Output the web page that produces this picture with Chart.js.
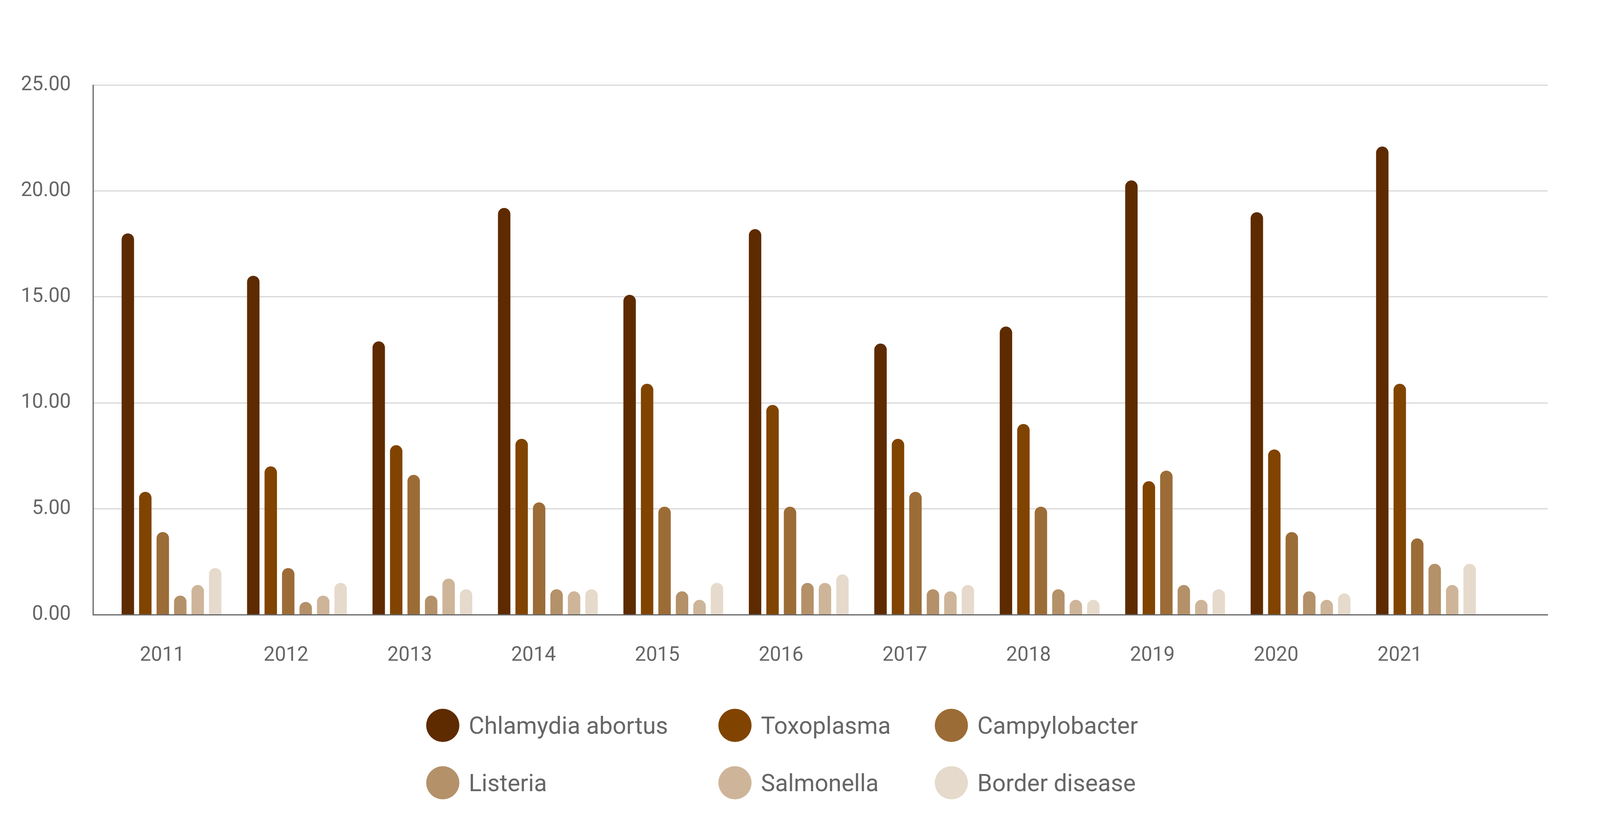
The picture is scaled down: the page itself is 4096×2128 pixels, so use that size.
<!DOCTYPE html>
<html>
<head>
<meta charset="utf-8">
<title>Abortion agents 2011-2021</title>
<script src="https://cdn.jsdelivr.net/npm/chart.js@4.4.1/dist/chart.umd.min.js"></script>
<style>
    html, body { margin: 0; padding: 0; background: #fff; overflow: hidden; }
    #wrap { position: relative; width: 4096px; height: 2128px; }
    #legend {
        position: absolute; left: 1091px; top: 1784px;
        display: grid; grid-template-columns: 748px 554px auto; grid-auto-rows: 147px;
        font-family: Roboto, sans-serif; font-size: 61px; color: #666;
    }
    .item { display: flex; align-items: center; white-space: nowrap; }
    .dot { width: 85px; height: 85px; border-radius: 50%; margin-right: 24px; flex: none; }
</style>
</head>
<body>
<div id="wrap">
    <canvas id="chart"></canvas>
    <div id="legend"></div>
</div>
<script>
// Data
const years = ['2011', '2012', '2013', '2014', '2015', '2016', '2017', '2018', '2019', '2020', '2021'];
const seriesNames = ['Chlamydia abortus', 'Toxoplasma', 'Campylobacter', 'Listeria', 'Salmonella', 'Border disease'];
const chlamydia = [18.0, 16.0, 12.9, 19.2, 15.1, 18.2, 12.8, 13.6, 20.5, 19.0, 22.1];
const toxoplasma = [5.8, 7.0, 8.0, 8.3, 10.9, 9.9, 8.3, 9.0, 6.3, 7.8, 10.9];
const campylobacter = [3.9, 2.2, 6.6, 5.3, 5.1, 5.1, 5.8, 5.1, 6.8, 3.9, 3.6];
const listeria = [0.9, 0.6, 0.9, 1.2, 1.1, 1.5, 1.2, 1.2, 1.4, 1.1, 2.4];
const salmonella = [1.4, 0.9, 1.7, 1.1, 0.7, 1.5, 1.1, 0.7, 0.7, 0.7, 1.4];
const borderDisease = [2.2, 1.5, 1.2, 1.2, 1.5, 1.9, 1.4, 0.7, 1.2, 1.0, 2.4];
const yTicks = [0, 5, 10, 15, 20, 25];

const colours = ['#5e2b00', '#804400', '#9c6c37', '#b49169', '#ceb599', '#e6dacc'];
const allSeries = [chlamydia, toxoplasma, campylobacter, listeria, salmonella, borderDisease];

Chart.defaults.font.family = 'Roboto, sans-serif';
Chart.defaults.color = '#666';

const firstYear = Number(years[0]);

const ctx = document.getElementById('chart').getContext('2d');
const chart = new Chart(ctx, {
    type: 'bar',
    data: {
        labels: years,
        datasets: allSeries.map((values, i) => ({
            label: seriesNames[i],
            data: values,
            backgroundColor: colours[i],
            borderWidth: 0,
            borderRadius: { topLeft: 20, topRight: 20, bottomLeft: 0, bottomRight: 0 },
            borderSkipped: 'start',
            categoryPercentage: 0.8357,
            barPercentage: 0.7115
        }))
    },
    options: {
        responsive: true,
        maintainAspectRatio: false,
        animation: false,
        layout: { padding: { top: 218, right: 134, bottom: 0, left: 0 } },
        plugins: {
            legend: { display: false },
            tooltip: { enabled: false }
        },
        scales: {
            // axis the bars are placed on
            x: {
                type: 'linear',
                display: false,
                offset: false,
                grid: { offset: false },
                min: firstYear - 0.6246,
                max: firstYear + 10.970,
                afterBuildTicks: function(scale) {
                    scale.ticks = years.map(y => ({ value: Number(y) }));
                }
            },
            // axis that carries the year labels and the base line
            xl: {
                type: 'linear',
                position: 'bottom',
                offset: false,
                min: firstYear - 0.5578,
                max: firstYear + 11.194,
                grid: { display: false, drawTicks: false, offset: false },
                border: { color: '#666', width: 3 },
                ticks: {
                    padding: 75,
                    color: '#666',
                    font: { size: 51 },
                    autoSkip: false,
                    maxRotation: 0,
                    callback: function(value) { return String(value); }
                },
                afterBuildTicks: function(scale) {
                    scale.ticks = years.map(y => ({ value: Number(y) }));
                },
                afterFit: function(scale) { scale.height = 554; }
            },
            y: {
                min: 0,
                max: 25,
                grid: { color: '#c8c8c8', lineWidth: 2, drawTicks: false },
                border: { color: '#666', width: 3 },
                ticks: {
                    padding: 57,
                    color: '#666',
                    font: { size: 51 },
                    callback: function(value) { return value.toFixed(2); }
                },
                afterBuildTicks: function(scale) {
                    scale.ticks = yTicks.map(v => ({ value: v }));
                },
                afterFit: function(scale) { scale.width = 238.5; }
            }
        }
    }
});

// HTML legend in a 3 column grid
const legendEl = document.getElementById('legend');
const items = Chart.defaults.plugins.legend.labels.generateLabels(chart);
legendEl.innerHTML = items.map(item => `
    <div class="item">
        <span class="dot" style="background:${item.fillStyle}"></span>
        <span>${item.text}</span>
    </div>
`).join('');
</script>
</body>
</html>
